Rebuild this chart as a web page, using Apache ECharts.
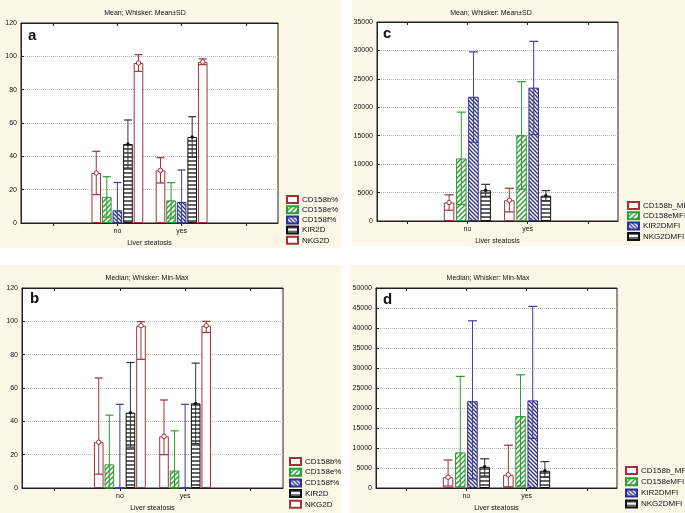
<!DOCTYPE html>
<html><head><meta charset="utf-8">
<script src="https://cdn.jsdelivr.net/npm/echarts@6/dist/echarts.min.js"></script>
<style>html,body{margin:0;padding:0;background:#fff}#c{width:685px;height:513px}</style>
</head><body><div id="c"></div>
<script>
// ---------- DATA ----------
const categories = ['', 'no', 'yes', ''];
const groupIndex = [1, 2];
const namesPct = ['CD158b%', 'CD158e%', 'CD158f%', 'KIR2D', 'NKG2D'];
const namesMFI = ['CD158b_MFI', 'CD158eMFI', 'KIR2DMFI', 'NKG2DMFI'];
const xAxisTitle = 'Liver steatosis';
const titleMeanSD = 'Mean; Whisker: Mean±SD';
const titleMedian = 'Median; Whisker: Min-Max';

// Panel a: Mean ± SD (%)
const a_mid_CD158b = [30.0, 31.6];  const a_low_CD158b = [17.0, 24.0];  const a_high_CD158b = [43.0, 39.2];
const a_mid_CD158e = [15.7, 13.6];  const a_low_CD158e = [3.5, 3.0];    const a_high_CD158e = [27.8, 24.2];
const a_mid_CD158f = [7.6, 12.6];   const a_low_CD158f = [0, 0];        const a_high_CD158f = [24.3, 31.8];
const a_mid_KIR2D  = [47.4, 51.6];  const a_low_KIR2D  = [33.0, 39.5];  const a_high_KIR2D  = [61.8, 63.8];
const a_mid_NKG2D  = [96.0, 96.6];  const a_low_NKG2D  = [91.0, 95.0];  const a_high_NKG2D  = [101.0, 98.5];

// Panel b: Median, Min-Max (%)
const b_mid_CD158b = [27.5, 31.0];  const b_low_CD158b = [8.3, 20.0];   const b_high_CD158b = [66.0, 52.8];
const b_mid_CD158e = [14.2, 10.5];  const b_low_CD158e = [0, 0];        const b_high_CD158e = [43.7, 34.3];
const b_mid_CD158f = [0, 0];        const b_low_CD158f = [0, 0];        const b_high_CD158f = [50.2, 50.2];
const b_mid_KIR2D  = [45.2, 50.8];  const b_low_KIR2D  = [24.5, 26.7];  const b_high_KIR2D  = [75.3, 74.9];
const b_mid_NKG2D  = [97.4, 97.4];  const b_low_NKG2D  = [77.2, 93.3];  const b_high_NKG2D  = [99.8, 100.0];

// Panel c: Mean ± SD (MFI)
const c_mid_CD158b = [3250, 3650];   const c_low_CD158b = [1900, 1600];   const c_high_CD158b = [4600, 5750];
const c_mid_CD158e = [11000, 15100]; const c_low_CD158e = [2900, 5600];   const c_high_CD158e = [19150, 24500];
const c_mid_KIR2D  = [21850, 23450]; const c_low_KIR2D  = [13850, 15200]; const c_high_KIR2D  = [29750, 31600];
const c_mid_NKG2D  = [5400, 4450];   const c_low_NKG2D  = [4350, 3550];   const c_high_NKG2D  = [6450, 5350];

// Panel d: Median, Min-Max (MFI)
const d_mid_CD158b = [2700, 3300];   const d_low_CD158b = [500, 300];     const d_high_CD158b = [7000, 10700];
const d_mid_CD158e = [8900, 18000];  const d_low_CD158e = [300, 500];     const d_high_CD158e = [27900, 28300];
const d_mid_KIR2D  = [21700, 21900]; const d_low_KIR2D  = [2300, 12400];  const d_high_KIR2D  = [41800, 45400];
const d_mid_NKG2D  = [5300, 4300];   const d_low_NKG2D  = [3000, 2700];   const d_high_NKG2D  = [7300, 6600];

// ---------- STYLES ----------
function pattern(kind, color) {
  const cv = document.createElement('canvas');
  const s = kind === 'h' ? 4 : (kind === 'slash' ? 5 : 4);
  cv.width = s; cv.height = s;
  const g = cv.getContext('2d');
  g.fillStyle = '#ffffff'; g.fillRect(0, 0, s, s);
  g.strokeStyle = color;
  if (kind === 'h') {
    g.lineWidth = 1.3; g.beginPath(); g.moveTo(0, 1); g.lineTo(s, 1); g.stroke();
  } else if (kind === 'slash') {
    g.lineWidth = 1.4; g.beginPath();
    g.moveTo(-1, s + 1); g.lineTo(s + 1, -1);
    g.moveTo(-1, 1); g.lineTo(1, -1);
    g.moveTo(s - 1, s + 1); g.lineTo(s + 1, s - 1);
    g.stroke();
  } else {
    g.lineWidth = 1.3; g.beginPath();
    g.moveTo(-1, -1); g.lineTo(s + 1, s + 1);
    g.moveTo(s - 1, -1); g.lineTo(s + 1, 1);
    g.moveTo(-1, s - 1); g.lineTo(1, s + 1);
    g.stroke();
  }
  return { image: cv, repeat: 'repeat' };
}
const KIND = {
  red:   { fill: '#ffffff', border: '#a5303a', whisker: '#a5303a', marker: 'ring' },
  green: { fill: pattern('slash', '#2e9c34'), border: '#2e9c34', whisker: '#2e9c34', marker: null },
  blue:  { fill: pattern('back', '#2d2d94'), border: '#2d2d94', whisker: '#3c3c9c', marker: null },
  black: { fill: pattern('h', '#111111'), border: '#111111', whisker: '#333333', marker: 'dot' }
};

const panels = [
  { key: 'a', grid: { left: 21, top: 23, width: 257, height: 200 }, ymax: 120, yint: 20,
    names: namesPct, kinds: ['red', 'green', 'blue', 'black', 'red'],
    mids: [a_mid_CD158b, a_mid_CD158e, a_mid_CD158f, a_mid_KIR2D, a_mid_NKG2D],
    lows: [a_low_CD158b, a_low_CD158e, a_low_CD158f, a_low_KIR2D, a_low_NKG2D],
    highs: [a_high_CD158b, a_high_CD158e, a_high_CD158f, a_high_KIR2D, a_high_NKG2D],
    barW: 9.6, gap: 0.1, cap: 8, title: titleMeanSD, titleX: 145, titleY: 13,
    letterX: 28, letterY: 28, legend: { left: 286, top: 195, row: 9.2 } },
  { key: 'b', grid: { left: 22, top: 288, width: 261, height: 200 }, ymax: 120, yint: 20,
    names: namesPct, kinds: ['red', 'green', 'blue', 'black', 'red'],
    mids: [b_mid_CD158b, b_mid_CD158e, b_mid_CD158f, b_mid_KIR2D, b_mid_NKG2D],
    lows: [b_low_CD158b, b_low_CD158e, b_low_CD158f, b_low_KIR2D, b_low_NKG2D],
    highs: [b_high_CD158b, b_high_CD158e, b_high_CD158f, b_high_KIR2D, b_high_NKG2D],
    barW: 9.6, gap: 0.1, cap: 8, title: titleMedian, titleX: 147, titleY: 278,
    letterX: 30, letterY: 291, legend: { left: 289, top: 457, row: 9.7 } },
  { key: 'c', grid: { left: 377, top: 22, width: 241, height: 199 }, ymax: 35000, yint: 5000,
    names: namesMFI, kinds: ['red', 'green', 'blue', 'black'],
    mids: [c_mid_CD158b, c_mid_CD158e, c_mid_KIR2D, c_mid_NKG2D],
    lows: [c_low_CD158b, c_low_CD158e, c_low_KIR2D, c_low_NKG2D],
    highs: [c_high_CD158b, c_high_CD158e, c_high_KIR2D, c_high_NKG2D],
    barW: 10.5, gap: 0.16, cap: 9, title: titleMeanSD, titleX: 491, titleY: 13,
    letterX: 383, letterY: 26, legend: { left: 627, top: 201, row: 9.3 } },
  { key: 'd', grid: { left: 376, top: 288, width: 241, height: 200 }, ymax: 50000, yint: 5000,
    names: namesMFI, kinds: ['red', 'green', 'blue', 'black'],
    mids: [d_mid_CD158b, d_mid_CD158e, d_mid_KIR2D, d_mid_NKG2D],
    lows: [d_low_CD158b, d_low_CD158e, d_low_KIR2D, d_low_NKG2D],
    highs: [d_high_CD158b, d_high_CD158e, d_high_KIR2D, d_high_NKG2D],
    barW: 10.5, gap: 0.16, cap: 9, title: titleMedian, titleX: 488, titleY: 278,
    letterX: 383, letterY: 292, legend: { left: 625, top: 466, row: 10.2 } }
];

const FONT = 'Liberation Sans, Arial, sans-serif';
const grids = [], xAxes = [], yAxes = [], series = [], legends = [];
const graphics = [
  { type: 'rect', shape: { x: 0, y: 0, width: 341, height: 248 }, style: { fill: '#fcf8e7' }, z: -10, silent: true },
  { type: 'rect', shape: { x: 352, y: 0, width: 333, height: 246 }, style: { fill: '#fcf8e7' }, z: -10, silent: true },
  { type: 'rect', shape: { x: 0, y: 265, width: 341, height: 248 }, style: { fill: '#fcf8e7' }, z: -10, silent: true },
  { type: 'rect', shape: { x: 350, y: 265, width: 335, height: 248 }, style: { fill: '#fcf8e7' }, z: -10, silent: true }
];

panels.forEach((p, k) => {
  grids.push(Object.assign({ show: true, backgroundColor: '#ffffff', borderColor: '#222', borderWidth: 1, containLabel: false }, p.grid));
  xAxes.push({
    type: 'category', gridIndex: k, data: categories, boundaryGap: true, position: 'bottom',
    axisLine: { show: true, lineStyle: { color: '#222', width: 1 } },
    axisTick: { show: true, alignWithLabel: true, length: 3, lineStyle: { color: '#222' } },
    axisLabel: { fontSize: 7, margin: 5, color: '#111', interval: 0, fontFamily: FONT },
    name: xAxisTitle, nameLocation: 'middle', nameGap: 17,
    nameTextStyle: { fontSize: 7, color: '#111', fontFamily: FONT },
    splitLine: { show: false }
  });
  xAxes.push({
    type: 'category', gridIndex: k, data: categories, boundaryGap: true, position: 'top',
    axisLine: { show: true, lineStyle: { color: '#222' } },
    axisTick: { show: true, alignWithLabel: true, inside: true, length: 3, lineStyle: { color: '#222' } },
    axisLabel: { show: false }, splitLine: { show: false }
  });
  yAxes.push({
    type: 'value', gridIndex: k, min: 0, max: p.ymax, interval: p.yint,
    axisLine: { show: true, lineStyle: { color: '#222' } },
    axisTick: { show: true, inside: true, length: 3, lineStyle: { color: '#222' } },
    axisLabel: { fontSize: 7, margin: 4, color: '#111', fontFamily: FONT, formatter: v => String(v) },
    splitLine: { show: true, lineStyle: { type: 'dotted', color: '#b5b5b5', width: 1 } }
  });
  const n = p.names.length;
  const step = p.barW * (1 + p.gap);
  const total = n * p.barW + (n - 1) * p.barW * p.gap;
  p.names.forEach((nm, j) => {
    const st = KIND[p.kinds[j]];
    series.push({
      type: 'bar', name: nm, xAxisIndex: 2 * k, yAxisIndex: k,
      data: groupIndex.map((g, i) => [g, p.mids[j][i]]),
      barWidth: p.barW, barGap: (p.gap * 100) + '%',
      itemStyle: { color: st.fill, borderColor: st.border, borderWidth: 1 },
      silent: true, z: 2
    });
    const off = -total / 2 + j * step + p.barW / 2;
    const col = st.whisker, mk = st.marker, hw = p.cap / 2;
    series.push({
      type: 'custom', name: p.key + '_whisker_' + j, xAxisIndex: 2 * k, yAxisIndex: k,
      data: groupIndex.map((g, i) => [g, p.lows[j][i], p.highs[j][i], p.mids[j][i]]),
      encode: { x: 0, y: [1, 2, 3] }, silent: true, z: 5, clip: false,
      renderItem: function (params, api) {
        const c = api.value(0);
        const lo = api.coord([c, api.value(1)]);
        const hi = api.coord([c, api.value(2)]);
        const md = api.coord([c, api.value(3)]);
        const x = lo[0] + off;
        const ch = [
          { type: 'line', shape: { x1: x, y1: lo[1], x2: x, y2: hi[1] }, style: { stroke: col, lineWidth: 1 } },
          { type: 'line', shape: { x1: x - hw, y1: hi[1], x2: x + hw, y2: hi[1] }, style: { stroke: col, lineWidth: 1.2 } },
          { type: 'line', shape: { x1: x - hw, y1: lo[1], x2: x + hw, y2: lo[1] }, style: { stroke: col, lineWidth: 1.2 } }
        ];
        if (mk === 'ring') ch.push({ type: 'circle', shape: { cx: x, cy: md[1], r: 2.2 }, style: { fill: '#fff', stroke: col, lineWidth: 1 } });
        if (mk === 'dot') ch.push({ type: 'circle', shape: { cx: x, cy: md[1], r: 1.7 }, style: { fill: '#111' } });
        return { type: 'group', children: ch };
      }
    });
  });
  legends.push({
    data: p.names, orient: 'vertical', left: p.legend.left, top: p.legend.top,
    itemWidth: 11, itemHeight: 7, itemGap: p.legend.row - 8, padding: 0, height: 60,
    icon: 'rect', selectedMode: false,
    textStyle: { fontSize: 8, lineHeight: 8, height: 8, color: '#111', fontFamily: FONT, padding: [0, 0, 0, -1] }
  });
  graphics.push({ type: 'text', x: p.titleX, y: p.titleY, style: { text: p.title, fontSize: 7, fill: '#111', fontFamily: FONT, align: 'center', verticalAlign: 'middle' }, z: 10 });
  graphics.push({ type: 'text', x: p.letterX, y: p.letterY, style: { text: p.key, fontSize: 15, fontWeight: 'bold', fill: '#111', fontFamily: FONT }, z: 10 });
});

const chart = echarts.init(document.getElementById('c'), null, { renderer: 'canvas' });
chart.setOption({
  animation: false,
  backgroundColor: '#ffffff',
  grid: grids, xAxis: xAxes, yAxis: yAxes, legend: legends, series: series, graphic: graphics
});
</script></body></html>
